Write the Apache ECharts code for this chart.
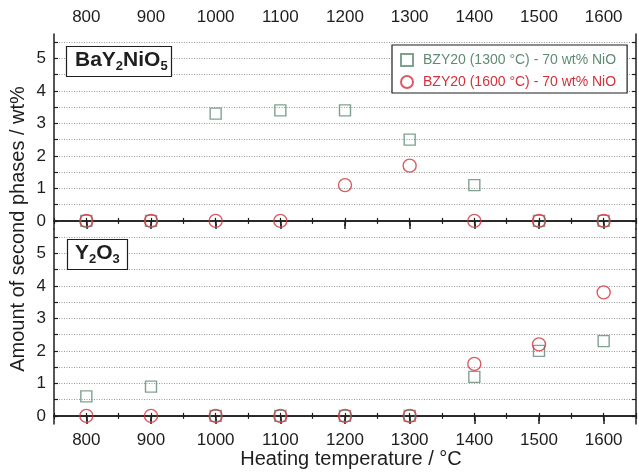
<!DOCTYPE html>
<html><head><meta charset="utf-8">
<script src="https://cdn.jsdelivr.net/npm/echarts@6/dist/echarts.min.js"></script>
<style>html,body{margin:0;padding:0;background:#fff}#c{width:639px;height:472px}</style>
</head><body><div id="c"></div>
<script>
// ---- data ----
const temperatures = [800, 900, 1000, 1100, 1200, 1300, 1400, 1500, 1600];
const xTickLabels = [800, 900, 1000, 1100, 1200, 1300, 1400, 1500, 1600];
const yTickLabels = [0, 1, 2, 3, 4, 5];
const yHalfTicks = [0, 0.5, 1, 1.5, 2, 2.5, 3, 3.5, 4, 4.5, 5, 5.5];
const seriesNames = ['BZY20 (1300 \u00B0C) - 70 wt% NiO', 'BZY20 (1600 \u00B0C) - 70 wt% NiO'];
const bayNiO5_1300 = [0, 0, 3.3, 3.4, 3.4, 2.5, 1.1, 0, 0];
const bayNiO5_1600 = [0, 0, 0, 0, 1.1, 1.7, 0, 0, 0];
const y2o3_1300 = [0.6, 0.9, 0, 0, 0, 0, 1.2, 2.0, 2.3];
const y2o3_1600 = [0, 0, 0, 0, 0, 0, 1.6, 2.2, 3.8];

const FONT = 'Liberation Sans, Arial, sans-serif';
const GREEN = '#5f8b73';
const RED = '#d2323c';
const INK = '#1e1e1e';

const chart = echarts.init(document.getElementById('c'), null, {renderer: 'canvas'});

function pairs(xs, ys) { return xs.map((x, i) => [x, ys[i]]); }

const X_MIN = 750, X_MAX = 1650, Y_MIN = -0.25, Y_MAX = 5.75;

function xAxisMain(grid, position, showLabels, extra) {
  return Object.assign({
    type: 'value', gridIndex: grid, position: position,
    min: X_MIN, max: X_MAX, interval: 50,
    axisLine: {show: true, lineStyle: {color: INK, width: 1.5}},
    axisTick: {show: true, inside: true, length: 3, lineStyle: {color: INK, width: 1.2}},
    axisLabel: {show: showLabels, margin: 8, fontSize: 17, fontFamily: FONT, color: INK,
      formatter: v => (xTickLabels.indexOf(Math.round(v)) >= 0 ? String(Math.round(v)) : '')},
    splitLine: {show: false}
  }, extra || {});
}
function xAxisMajor(grid, position) {
  return {
    type: 'value', gridIndex: grid, position: position,
    min: X_MIN, max: X_MAX, interval: 50,
    axisLine: {show: false},
    axisTick: {show: true, inside: true, length: 5, customValues: xTickLabels, lineStyle: {color: INK, width: 1.5}},
    axisLabel: {show: false},
    splitLine: {show: false}
  };
}
function yAxisMain(grid) {
  return {
    type: 'value', gridIndex: grid, position: 'left',
    min: Y_MIN, max: Y_MAX, interval: 0.25,
    axisLine: {show: true, lineStyle: {color: INK, width: 1.5}},
    axisTick: {show: false},
    axisLabel: {show: true, margin: 8, fontSize: 17, fontFamily: FONT, color: INK,
      formatter: v => (yTickLabels.some(t => Math.abs(t - v) < 1e-6) ? String(Math.round(v)) : '')},
    splitLine: {show: true, lineStyle: {color: ['rgba(0,0,0,0)', '#9a9a9a'], width: 1, type: [1, 1.5]}}
  };
}
function yAxisTicks(grid, position) {
  return {
    type: 'value', gridIndex: grid, position: position,
    min: Y_MIN, max: Y_MAX, interval: 0.25,
    axisLine: {show: position === 'right', lineStyle: {color: INK, width: 1.5}},
    axisTick: {show: true, inside: true, length: 4, customValues: yHalfTicks, lineStyle: {color: INK, width: 1.2}},
    axisLabel: {show: false},
    splitLine: {show: false}
  };
}

const squareStyle = {color: 'rgba(0,0,0,0)', borderColor: GREEN, borderWidth: 1.4};
const circleStyle = {color: 'rgba(0,0,0,0)', borderColor: RED, borderWidth: 1.4};

const option = {
  animation: false,
  backgroundColor: '#fff',
  textStyle: {fontFamily: FONT},
  grid: [
    {left: 54, top: 34, width: 584, height: 195},
    {left: 54, top: 229, width: 584, height: 195}
  ],
  xAxis: [
    xAxisMain(0, 'top', true),
    xAxisMajor(0, 'top'),
    xAxisMain(0, 'bottom', false),
    xAxisMajor(0, 'bottom'),
    xAxisMain(1, 'top', false),
    xAxisMajor(1, 'top'),
    xAxisMain(1, 'bottom', true, {
      name: 'Heating temperature / \u00B0C', nameLocation: 'middle', nameGap: 19,
      nameTextStyle: {fontSize: 20, fontFamily: FONT, color: INK, padding: [0, 0, 0, 12]}
    }),
    xAxisMajor(1, 'bottom')
  ],
  yAxis: [
    yAxisMain(0), yAxisTicks(0, 'left'), yAxisTicks(0, 'right'),
    yAxisMain(1), yAxisTicks(1, 'left'), yAxisTicks(1, 'right')
  ],
  legend: {
    left: 392, top: 45, orient: 'vertical',
    backgroundColor: '#fff', borderColor: INK, borderWidth: 1.2,
    padding: [8, 11, 4, 8],
    itemWidth: 22, itemHeight: 12, itemGap: 8,
    symbolKeepAspect: true,
    textStyle: {fontSize: 14, fontFamily: FONT},
    data: [
      {name: seriesNames[0], icon: 'path://M0,0L10,0L10,10L0,10Z', textStyle: {color: GREEN}},
      {name: seriesNames[1], icon: 'circle', textStyle: {color: RED}}
    ]
  },
  title: [
    {
      left: 66, top: 44, padding: [4, 4, 4, 9],
      borderColor: INK, borderWidth: 1.2, backgroundColor: '#fff',
      text: '{b|BaY}{s|2}{b|NiO}{s|5}',
      textStyle: {rich: {
        b: {fontSize: 21, fontWeight: 'bold', fontFamily: FONT, color: INK, lineHeight: 25},
        s: {fontSize: 13, fontWeight: 'bold', fontFamily: FONT, color: INK, lineHeight: 14, verticalAlign: 'bottom'}
      }}
    },
    {
      left: 67, top: 237, padding: [4, 8, 4, 8],
      borderColor: INK, borderWidth: 1.2, backgroundColor: '#fff',
      text: '{b|Y}{s|2}{b|O}{s|3}',
      textStyle: {rich: {
        b: {fontSize: 21, fontWeight: 'bold', fontFamily: FONT, color: INK, lineHeight: 25},
        s: {fontSize: 13, fontWeight: 'bold', fontFamily: FONT, color: INK, lineHeight: 14, verticalAlign: 'bottom'}
      }}
    }
  ],
  graphic: [{
    type: 'text', x: 18, y: 229, rotation: Math.PI / 2,
    style: {text: 'Amount of second phases / wt%', fontSize: 20, fontFamily: FONT, fill: INK,
      align: 'center', verticalAlign: 'middle'}
  }],
  series: [
    {name: seriesNames[0], type: 'scatter', xAxisIndex: 0, yAxisIndex: 0, symbol: 'rect', symbolSize: 11,
      itemStyle: squareStyle, data: pairs(temperatures, bayNiO5_1300)},
    {name: seriesNames[1], type: 'scatter', xAxisIndex: 0, yAxisIndex: 0, symbol: 'circle', symbolSize: 13,
      itemStyle: circleStyle, data: pairs(temperatures, bayNiO5_1600)},
    {name: seriesNames[0], type: 'scatter', xAxisIndex: 6, yAxisIndex: 3, symbol: 'rect', symbolSize: 11,
      itemStyle: squareStyle, data: pairs(temperatures, y2o3_1300)},
    {name: seriesNames[1], type: 'scatter', xAxisIndex: 6, yAxisIndex: 3, symbol: 'circle', symbolSize: 13,
      itemStyle: circleStyle, data: pairs(temperatures, y2o3_1600)}
  ]
};
chart.setOption(option);
</script>
</body></html>
